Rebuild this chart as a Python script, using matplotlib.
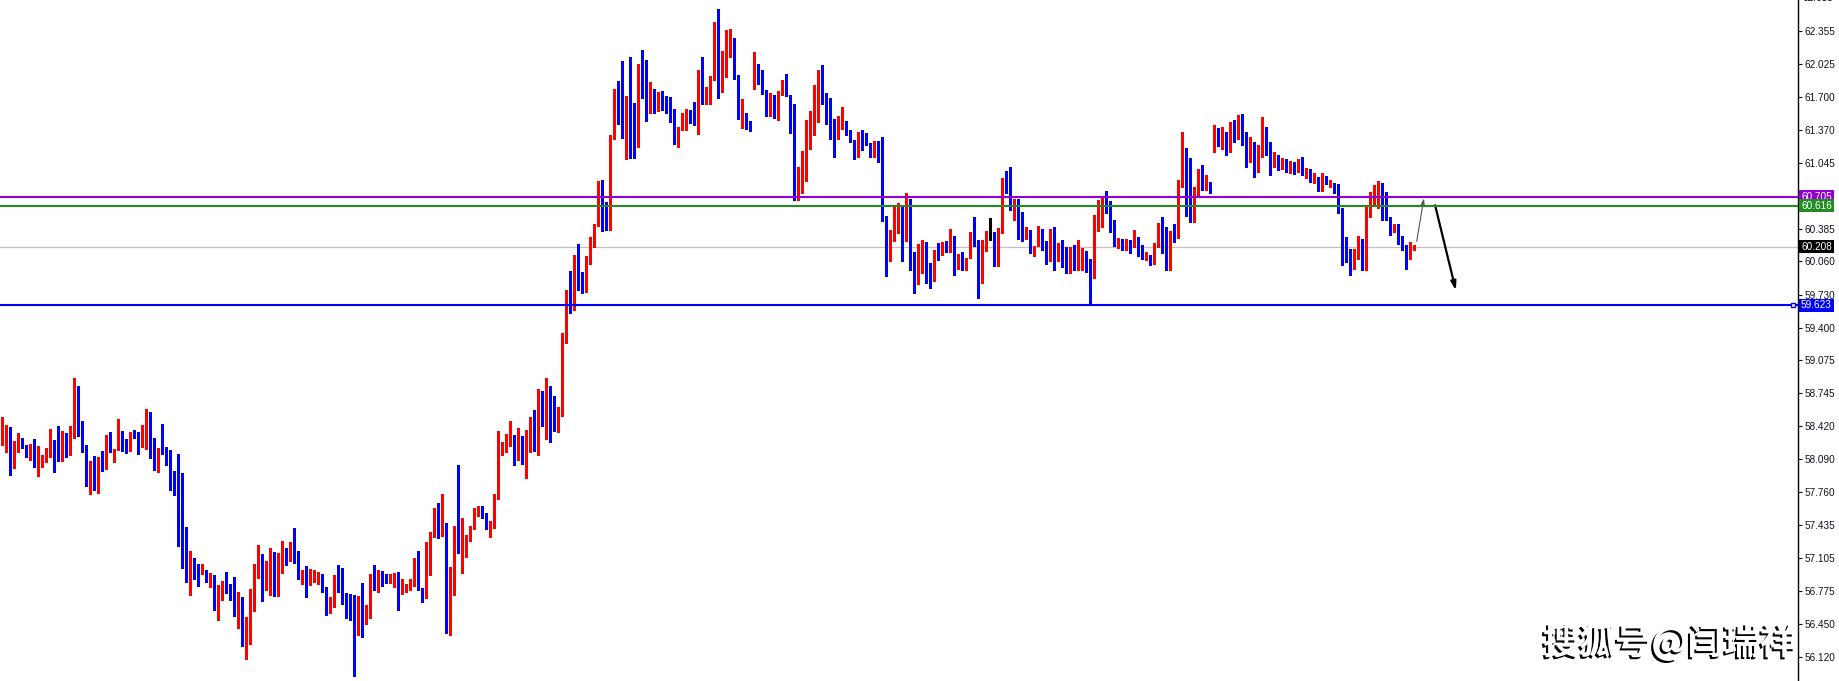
import numpy as np
import matplotlib.pyplot as plt
import matplotlib.patheffects as pe

# candle data (price), one entry per bar, left to right
opens = [
    58.23, 58.34, 58.38, 58.00, 58.16, 58.25, 58.23, 58.18, 58.20, 58.02,
    58.06, 58.08, 58.13, 58.28, 58.23, 58.18, 58.23, 58.20, 58.37, 58.78,
    58.41, 58.18, 57.92, 58.06, 57.89, 58.09, 57.99, 58.29, 58.18, 58.18,
    58.31, 58.22, 58.22, 58.34, 58.34, 58.26, 58.31, 58.53, 58.18, 58.01,
    58.16, 58.16, 58.03, 57.95, 57.88, 57.72, 57.28, 56.91, 57.08, 57.02,
    56.96, 56.99, 56.90, 56.94, 56.59, 56.79, 56.81, 56.78, 56.76, 56.55,
    56.67, 56.29, 56.34, 56.62, 57.00, 57.13, 56.87, 56.99, 57.06, 56.81,
    56.97, 57.14, 57.09, 57.12, 57.11, 56.90, 56.94, 56.85, 56.91, 56.93,
    56.95, 56.78, 56.59, 56.63, 56.92, 56.82, 56.72, 56.71, 56.55, 56.52,
    56.55, 56.45, 56.58, 56.87, 56.86, 56.96, 56.91, 56.90, 56.94, 56.95,
    56.79, 56.80, 56.83, 56.84, 56.99, 56.79, 56.72, 57.18, 57.33, 57.49,
    57.35, 57.45, 56.36, 56.82, 57.33, 57.17, 57.20, 57.29, 57.39, 57.52,
    57.56, 57.52, 57.40, 57.41, 57.69, 58.16, 58.17, 58.22, 58.27, 58.17,
    58.24, 58.11, 58.27, 58.31, 58.18, 58.71, 58.55, 58.71, 58.66, 58.40,
    58.56, 59.30, 59.72, 59.62, 60.08, 59.91, 59.80, 60.04, 60.20, 60.42,
    60.86, 60.43, 60.41, 61.31, 61.75, 61.60, 61.56, 61.72, 61.64, 61.41,
    62.02, 62.01, 61.66, 61.69, 61.60, 61.74, 61.70, 61.65, 61.58, 61.24,
    61.38, 61.39, 61.51, 61.48, 61.43, 61.95, 61.63, 61.64, 61.89, 62.42,
    61.76, 62.07, 62.16, 62.25, 61.89, 61.52, 61.54, 61.46, 61.85, 62.00,
    61.89, 61.75, 61.52, 61.72, 61.49, 61.73, 61.85, 61.72, 61.61, 60.74,
    60.78, 60.86, 61.39, 61.55, 61.82, 61.90, 61.64, 61.58, 61.43, 61.38,
    61.39, 61.46, 61.33, 61.27, 61.10, 61.34, 61.26, 61.24, 61.14, 61.19,
    61.07, 60.51, 60.21, 60.34, 60.40, 60.47, 60.26, 60.54, 59.97, 59.88,
    60.04, 60.22, 59.97, 59.92, 60.17, 60.14, 60.21, 60.16, 60.29, 59.99,
    60.13, 59.97, 60.09, 60.33, 60.27, 59.87, 60.16, 60.32, 60.31, 60.15,
    60.34, 60.85, 60.83, 60.60, 60.62, 60.44, 60.30, 60.34, 60.15, 60.21,
    60.36, 60.26, 60.06, 60.35, 60.16, 60.16, 60.07, 59.97, 60.10, 60.06,
    60.06, 60.09, 60.00, 59.95, 60.39, 60.41, 60.66, 60.62, 60.43, 60.20,
    60.24, 60.20, 60.26, 60.21, 60.27, 60.22, 60.08, 60.12, 60.06, 60.20,
    60.41, 60.16, 60.07, 60.36, 60.32, 60.80, 61.19, 60.92, 60.63, 60.75,
    60.86, 60.82, 60.85, 61.24, 61.38, 61.24, 61.30, 61.20, 61.40, 61.33,
    61.45, 61.30, 61.12, 61.20, 61.05, 61.15, 61.35, 61.20, 61.05, 61.10,
    61.02, 61.06, 60.98, 61.03, 60.99, 61.05, 60.97, 60.98, 60.88, 60.90,
    60.76, 60.91, 60.81, 60.84, 60.75, 60.59, 60.18, 60.10, 60.07, 60.15,
    60.28, 59.97, 60.50, 60.71, 60.72, 60.75, 60.61, 60.50, 60.39, 60.42,
    60.25, 60.22, 60.08, 60.19,
]
highs = [
    58.51, 58.43, 58.41, 58.27, 58.35, 58.30, 58.23, 58.24, 58.29, 58.22,
    58.13, 58.20, 58.39, 58.28, 58.42, 58.37, 58.35, 58.42, 58.90, 58.82,
    58.47, 58.23, 58.07, 58.12, 58.11, 58.17, 58.33, 58.36, 58.19, 58.49,
    58.37, 58.29, 58.36, 58.38, 58.36, 58.43, 58.59, 58.56, 58.30, 58.20,
    58.44, 58.21, 58.18, 57.97, 58.14, 57.95, 57.41, 57.18, 57.11, 57.05,
    57.05, 56.99, 56.96, 56.94, 56.84, 56.88, 56.97, 56.85, 56.92, 56.77,
    56.72, 56.52, 56.80, 57.05, 57.24, 57.15, 57.08, 57.21, 57.17, 57.16,
    57.28, 57.21, 57.27, 57.40, 57.18, 56.99, 57.03, 57.00, 56.99, 56.97,
    56.95, 56.82, 56.72, 56.94, 57.04, 57.01, 56.76, 56.75, 56.74, 56.73,
    56.86, 56.64, 56.95, 57.04, 56.99, 56.98, 56.95, 56.95, 56.96, 56.97,
    56.90, 56.85, 56.90, 57.11, 57.18, 56.81, 57.27, 57.37, 57.60, 57.65,
    57.74, 57.45, 57.02, 57.42, 58.03, 57.50, 57.34, 57.42, 57.60, 57.62,
    57.62, 57.55, 57.47, 57.74, 58.37, 58.26, 58.34, 58.47, 58.33, 58.40,
    58.32, 58.38, 58.51, 58.58, 58.79, 58.77, 58.90, 58.82, 58.72, 58.61,
    59.35, 59.78, 59.96, 60.12, 60.23, 59.95, 60.11, 60.30, 60.43, 60.86,
    60.87, 60.65, 61.32, 61.78, 61.86, 62.06, 61.71, 62.10, 61.64, 62.03,
    62.17, 62.07, 61.85, 61.78, 61.75, 61.76, 61.71, 61.70, 61.58, 61.40,
    61.54, 61.58, 61.57, 61.65, 61.97, 62.10, 61.80, 61.91, 62.44, 62.57,
    62.16, 62.37, 62.38, 62.29, 61.92, 61.68, 61.54, 61.46, 62.15, 62.03,
    61.97, 61.77, 61.74, 61.72, 61.76, 61.87, 61.93, 61.72, 61.63, 61.00,
    61.16, 61.47, 61.56, 61.82, 61.97, 62.02, 61.74, 61.69, 61.48, 61.51,
    61.60, 61.46, 61.37, 61.27, 61.35, 61.37, 61.34, 61.24, 61.26, 61.26,
    61.30, 60.51, 60.37, 60.61, 60.64, 60.61, 60.74, 60.68, 60.15, 60.23,
    60.27, 60.25, 60.04, 60.17, 60.24, 60.25, 60.26, 60.38, 60.31, 60.13,
    60.15, 60.09, 60.35, 60.50, 60.27, 60.27, 60.36, 60.49, 60.35, 60.39,
    60.89, 60.96, 61.00, 60.68, 60.68, 60.55, 60.40, 60.37, 60.21, 60.41,
    60.38, 60.26, 60.38, 60.40, 60.24, 60.27, 60.20, 60.20, 60.22, 60.27,
    60.19, 60.16, 60.08, 60.52, 60.67, 60.69, 60.76, 60.66, 60.47, 60.29,
    60.28, 60.28, 60.27, 60.37, 60.30, 60.22, 60.15, 60.12, 60.24, 60.44,
    60.50, 60.40, 60.36, 60.43, 60.87, 61.35, 61.19, 61.09, 60.80, 60.98,
    61.02, 60.92, 60.85, 61.42, 61.39, 61.40, 61.35, 61.45, 61.47, 61.52,
    61.53, 61.35, 61.30, 61.25, 61.22, 61.50, 61.40, 61.25, 61.15, 61.12,
    61.09, 61.08, 61.06, 61.05, 61.08, 61.10, 60.99, 60.98, 60.94, 60.90,
    60.94, 60.91, 60.87, 60.84, 60.83, 60.59, 60.30, 60.18, 60.18, 60.31,
    60.28, 60.61, 60.75, 60.82, 60.86, 60.84, 60.75, 60.50, 60.43, 60.43,
    60.31, 60.22, 60.25, 60.22,
]
lows = [
    58.23, 58.16, 57.93, 58.00, 58.16, 58.20, 58.11, 58.08, 58.01, 57.92,
    58.01, 58.06, 58.11, 57.96, 58.07, 58.07, 58.11, 58.13, 58.30, 58.32,
    58.16, 57.82, 57.74, 57.78, 57.75, 57.97, 57.99, 58.16, 58.06, 58.18,
    58.17, 58.15, 58.17, 58.30, 58.14, 58.21, 58.19, 58.10, 57.98, 57.96,
    58.14, 58.03, 57.78, 57.73, 57.23, 57.01, 56.87, 56.74, 56.90, 56.83,
    56.95, 56.87, 56.82, 56.59, 56.49, 56.69, 56.76, 56.69, 56.53, 56.41,
    56.23, 56.10, 56.25, 56.58, 56.91, 56.68, 56.79, 56.74, 56.73, 56.73,
    56.96, 57.04, 57.08, 57.06, 56.90, 56.85, 56.72, 56.84, 56.87, 56.85,
    56.77, 56.54, 56.56, 56.62, 56.77, 56.65, 56.51, 56.49, 55.93, 56.34,
    56.32, 56.45, 56.51, 56.79, 56.77, 56.83, 56.86, 56.86, 56.82, 56.59,
    56.75, 56.77, 56.79, 56.83, 56.79, 56.67, 56.71, 56.94, 57.32, 57.31,
    57.33, 56.36, 56.34, 56.74, 57.16, 56.96, 57.12, 57.28, 57.39, 57.52,
    57.50, 57.39, 57.32, 57.40, 57.69, 58.13, 58.16, 58.22, 58.03, 58.08,
    58.04, 57.90, 58.16, 58.17, 58.13, 58.42, 58.29, 58.26, 58.37, 58.36,
    58.52, 59.25, 59.55, 59.58, 59.78, 59.75, 59.76, 60.03, 60.20, 60.41,
    60.36, 60.37, 60.37, 61.28, 61.43, 61.29, 61.08, 61.09, 61.09, 61.20,
    61.69, 61.46, 61.54, 61.54, 61.56, 61.57, 61.54, 61.45, 61.23, 61.20,
    61.37, 61.37, 61.44, 61.42, 61.33, 61.63, 61.63, 61.63, 61.87, 61.69,
    61.75, 61.90, 62.10, 61.88, 61.48, 61.39, 61.38, 61.36, 61.78, 61.83,
    61.73, 61.51, 61.51, 61.49, 61.47, 61.72, 61.71, 61.34, 60.67, 60.67,
    60.74, 60.86, 61.18, 61.32, 61.45, 61.63, 61.43, 61.28, 61.10, 61.28,
    61.38, 61.32, 61.25, 61.08, 61.10, 61.17, 61.22, 61.10, 61.10, 61.05,
    60.46, 59.91, 60.06, 60.26, 60.34, 60.06, 60.26, 59.97, 59.75, 59.84,
    59.94, 59.85, 59.80, 59.87, 60.07, 60.12, 60.15, 60.15, 59.92, 59.98,
    59.97, 59.97, 60.09, 60.21, 59.70, 59.85, 60.16, 60.27, 60.01, 60.01,
    60.34, 60.74, 60.57, 60.47, 60.28, 60.26, 60.28, 60.14, 60.11, 60.21,
    60.17, 60.03, 60.06, 59.97, 60.06, 60.00, 59.94, 59.94, 59.97, 59.97,
    59.97, 59.95, 59.65, 59.90, 60.36, 60.40, 60.54, 60.35, 60.21, 60.19,
    60.17, 60.17, 60.14, 60.20, 60.11, 60.08, 60.07, 60.02, 60.03, 60.20,
    60.14, 59.97, 59.97, 60.25, 60.29, 60.80, 60.51, 60.45, 60.45, 60.72,
    60.77, 60.77, 60.74, 61.15, 61.21, 61.18, 61.12, 61.15, 61.25, 61.28,
    61.22, 61.00, 61.05, 60.90, 60.95, 61.10, 61.12, 60.92, 61.00, 60.97,
    60.98, 60.95, 60.94, 60.93, 60.95, 60.92, 60.89, 60.85, 60.84, 60.76,
    60.76, 60.83, 60.80, 60.74, 60.54, 60.02, 60.05, 59.92, 59.98, 60.08,
    59.97, 59.97, 60.50, 60.61, 60.59, 60.47, 60.47, 60.32, 60.35, 60.23,
    60.17, 59.98, 60.08, 60.17,
]
closes = [
    58.35, 58.38, 58.00, 58.15, 58.26, 58.22, 58.17, 58.19, 58.01, 58.08,
    58.09, 58.15, 58.29, 58.22, 58.18, 58.23, 58.20, 58.38, 58.78, 58.40,
    58.17, 57.93, 58.06, 57.89, 58.09, 57.99, 58.26, 58.16, 58.19, 58.31,
    58.22, 58.21, 58.35, 58.33, 58.26, 58.33, 58.54, 58.17, 58.01, 58.16,
    58.15, 58.03, 57.94, 57.86, 57.72, 57.28, 56.91, 57.08, 57.01, 56.90,
    56.98, 56.88, 56.94, 56.59, 56.79, 56.80, 56.77, 56.76, 56.55, 56.67,
    56.30, 56.34, 56.63, 57.01, 57.14, 56.87, 56.99, 57.05, 56.82, 56.98,
    57.13, 57.09, 57.17, 57.10, 56.91, 56.94, 56.85, 56.92, 56.93, 56.94,
    56.77, 56.59, 56.64, 56.91, 56.82, 56.71, 56.70, 56.54, 56.52, 56.54,
    56.45, 56.59, 56.88, 56.86, 56.96, 56.89, 56.89, 56.94, 56.95, 56.78,
    56.81, 56.83, 56.86, 56.99, 56.79, 56.72, 57.18, 57.35, 57.50, 57.35,
    57.45, 56.37, 56.83, 57.33, 57.18, 57.20, 57.30, 57.39, 57.57, 57.57,
    57.51, 57.42, 57.42, 57.69, 58.17, 58.20, 58.24, 58.29, 58.15, 58.24,
    58.13, 58.28, 58.31, 58.17, 58.71, 58.56, 58.72, 58.65, 58.41, 58.56,
    59.30, 59.65, 59.62, 60.08, 59.83, 59.80, 60.05, 60.21, 60.43, 60.86,
    60.42, 60.39, 61.32, 61.74, 61.60, 61.56, 61.71, 61.63, 61.41, 62.02,
    62.00, 61.66, 61.69, 61.60, 61.75, 61.70, 61.64, 61.58, 61.24, 61.38,
    61.40, 61.50, 61.47, 61.42, 61.95, 61.63, 61.66, 61.90, 62.42, 61.77,
    62.08, 62.17, 62.26, 61.89, 61.52, 61.55, 61.45, 61.44, 62.00, 61.88,
    61.74, 61.52, 61.73, 61.49, 61.74, 61.85, 61.71, 61.60, 60.74, 60.79,
    60.87, 61.41, 61.56, 61.82, 61.89, 61.63, 61.58, 61.42, 61.38, 61.40,
    61.52, 61.32, 61.26, 61.09, 61.34, 61.25, 61.22, 61.14, 61.19, 61.06,
    60.50, 60.21, 60.34, 60.41, 60.47, 60.25, 60.55, 59.97, 59.87, 60.05,
    60.22, 59.89, 59.92, 60.17, 60.12, 60.21, 60.17, 60.29, 60.01, 60.13,
    59.98, 60.09, 60.33, 60.26, 59.87, 60.18, 60.32, 60.32, 60.15, 60.34,
    60.85, 60.83, 60.60, 60.62, 60.43, 60.31, 60.33, 60.15, 60.21, 60.36,
    60.23, 60.05, 60.35, 60.06, 60.17, 60.06, 59.97, 60.10, 60.05, 60.07,
    60.10, 59.97, 59.85, 60.39, 60.42, 60.69, 60.62, 60.42, 60.21, 60.29,
    60.21, 60.26, 60.21, 60.27, 60.21, 60.09, 60.12, 60.06, 60.21, 60.41,
    60.15, 60.06, 60.36, 60.32, 60.82, 61.19, 60.91, 60.63, 60.76, 60.85,
    60.81, 60.85, 60.83, 61.38, 61.24, 61.30, 61.20, 61.40, 61.33, 61.45,
    61.30, 61.12, 61.20, 61.05, 61.15, 61.35, 61.20, 61.05, 61.10, 61.02,
    61.06, 60.98, 61.03, 60.99, 61.03, 61.00, 60.99, 60.87, 60.91, 60.76,
    60.92, 60.83, 60.85, 60.79, 60.58, 60.19, 60.10, 60.07, 60.18, 60.20,
    59.97, 60.50, 60.74, 60.74, 60.75, 60.60, 60.50, 60.35, 60.42, 60.25,
    60.17, 60.08, 60.20, 60.21,
]

# right axis ticks
tick_values = [62.355, 62.025, 61.700, 61.370, 61.045, 60.385, 60.060, 59.730,
               59.400, 59.075, 58.745, 58.420, 58.090, 57.760, 57.435, 57.105,
               56.775, 56.450, 56.120]
top_tick = 62.685

# horizontal levels: (price, colour)
levels = [(60.705, '#9400d3'), (60.616, '#228b22'), (59.623, '#0000ff')]
current_price = 60.208

# drawn forecast arrows (bar index, price)
arrow_up = [(353.6, 60.26), (355.4, 60.69)]
arrow_down = [(358.2, 60.62), (363.4, 59.77)]

watermark = '搜狐号@闫瑞祥'

W, H = 1840, 681
fig = plt.figure(figsize=(W / 100, H / 100), dpi=100)
ax = fig.add_axes([0, 0, 1798 / W, 1])

o = np.array(opens)
h = np.array(highs)
l = np.array(lows)
c = np.array(closes)
x = np.arange(len(c))

cols = np.where(c > o, '#ff0000', np.where(c < o, '#0000ff', '#000000'))
bottoms = np.minimum(o, c)
heights = np.maximum(np.abs(c - o), 0.012)

ax.vlines(x, l, h, colors=cols, linewidth=0.9, antialiased=False, zorder=3)
ax.bar(x, heights, bottom=bottoms, width=0.72, color=cols, linewidth=0,
       antialiased=False, zorder=3)

ax.set_xlim(-0.575, (1798 - 2.3) / 4)
ax.set_ylim(55.881, 62.664)

# levels
for p, col in levels:
    ax.axhline(p, color=col, linewidth=1.5, zorder=4)
ax.axhline(current_price, color='#c0c0c0', linewidth=0.9, zorder=2)
ax.plot([0.997], [levels[2][0]], marker='s', markersize=3.5, mfc='white',
        mec='#0000ff', mew=1, transform=ax.get_yaxis_transform(),
        clip_on=False, zorder=6)

# arrows
ax.annotate('', xy=arrow_up[1], xytext=arrow_up[0],
            arrowprops=dict(arrowstyle='-|>,head_length=0.4,head_width=0.12',
                            color='#555555', lw=0.8, shrinkA=0, shrinkB=0))
ax.annotate('', xy=arrow_down[1], xytext=arrow_down[0],
            arrowprops=dict(arrowstyle='-|>,head_length=0.5,head_width=0.15',
                            color='black', lw=1.6, shrinkA=0, shrinkB=0))

# axis styling
for side in ['top', 'left', 'bottom']:
    ax.spines[side].set_visible(False)
ax.spines['right'].set_color('black')
ax.spines['right'].set_linewidth(1.0)
ax.set_xticks([])
ax.yaxis.tick_right()
ax.set_yticks(tick_values)
ax.set_yticklabels([f'{v:.3f}' for v in tick_values])
ax.tick_params(axis='y', direction='out', length=3, width=0.8, pad=2,
               labelsize=7.2, colors='#111122')
for lab in ax.get_yticklabels():
    lab.set_fontfamily('Liberation Sans')

ax.annotate(f'{top_tick:.3f}', xy=(1, top_tick), xycoords=('axes fraction', 'data'),
            xytext=(3.6, 0), textcoords='offset points', va='center', ha='left',
            fontsize=7.2, family='Liberation Sans', annotation_clip=False)

# price boxes
boxes = levels[:2] + [(current_price, '#000000'), levels[2]]
for p, col in boxes:
    ax.annotate(f'{p:.3f}', xy=(1, p), xycoords=('axes fraction', 'data'),
                xytext=(2.2, 0), textcoords='offset points', va='center',
                ha='left', color='white', fontsize=7.2, family='Liberation Sans',
                bbox=dict(boxstyle='square,pad=0.18', fc=col, ec='none'),
                annotation_clip=False, zorder=7)

fig.text(1796 / W, 1 - 643 / H, watermark, ha='right', va='center',
         fontsize=26, color='white', fontweight='bold',
         family=['Noto Sans CJK SC', 'DejaVu Sans'],
         path_effects=[pe.SimplePatchShadow(offset=(-1.5, -1.5),
                                            shadow_rgbFace='black', alpha=1),
                       pe.Normal()])

fig.savefig('out.png', dpi=100, facecolor='white')
